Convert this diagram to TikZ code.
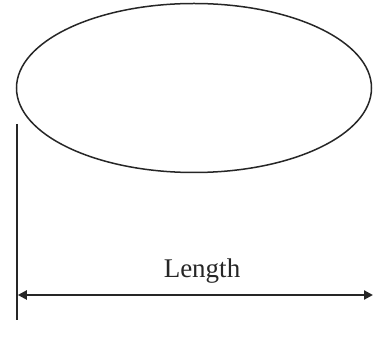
\documentclass[tikz,border=0pt]{standalone}
\usepackage{fontspec}
\setmainfont{Liberation Serif}
\usetikzlibrary{arrows.meta,shapes.geometric}
\begin{document}
\begin{tikzpicture}[x=1pt,y=1pt,
  shapeline/.style={draw=black!85,line width=1.5pt},
  dimarrow/.style={draw=black!85,line width=2.1pt,{Triangle[length=9pt,width=9pt]}-{Triangle[length=9pt,width=9pt]}},
  label/.style={font=\fontsize{27}{31}\selectfont,text=black!85,inner sep=0pt,anchor=base}]
\useasboundingbox (0,0) rectangle (373,337);
\draw[shapeline] (194,249) ellipse [x radius=177.5,y radius=84.5];
\coordinate (vtop) at (17,213);
\coordinate (vbot) at (17,17);
\coordinate (aL) at (17.8,42);
\coordinate (aR) at (373,42);
\draw[shapeline] (vtop) -- (vbot);
\draw[dimarrow] (aL) -- (aR);
\node[label] (len) at (202,59) {Length};
\end{tikzpicture}
\end{document}
